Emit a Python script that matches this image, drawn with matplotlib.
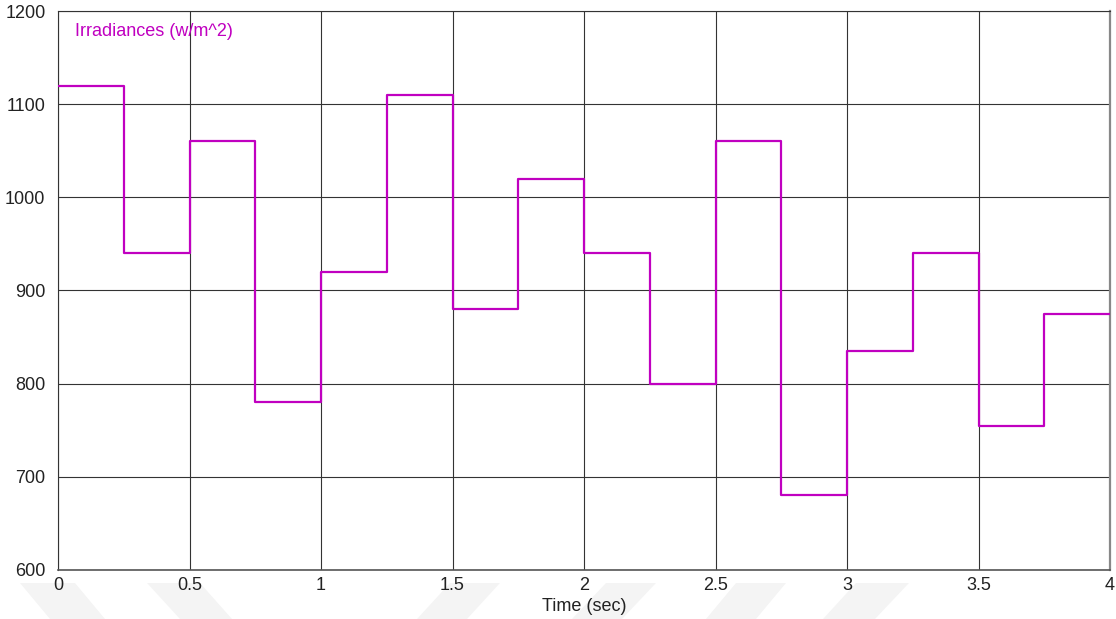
import matplotlib
matplotlib.use("Agg")
import matplotlib.pyplot as plt
from matplotlib.patches import Polygon

plt.rcParams['font.family'] = ['Liberation Sans', 'DejaVu Sans']

# Irradiance profile: piecewise-constant levels held between switching instants
switch_times = [0.0, 0.25, 0.5, 0.75, 1.0, 1.25, 1.5, 1.75, 2.0,
                2.25, 2.5, 2.75, 3.0, 3.25, 3.5, 3.75, 4.0]
irradiance = [1120, 940, 1060, 780, 920, 1110, 880, 1020,
              940, 800, 1060, 680, 835, 940, 755, 875]

x_ticks = [0, 0.5, 1, 1.5, 2, 2.5, 3, 3.5, 4]
x_tick_labels = ['0', '0.5', '1', '1.5', '2', '2.5', '3', '3.5', '4']
y_ticks = [600, 700, 800, 900, 1000, 1100, 1200]

W, H = 1116, 619
fig = plt.figure(figsize=(W / 100, H / 100), dpi=100)
ax = fig.add_axes([58 / W, 1 - 570 / H, (1110 - 58) / W, (570 - 11) / H])

# faint diagonal background bands along the bottom edge
bands = [
    [(20, 583), (75, 583), (105, 619), (50, 619)],
    [(147, 583), (200, 583), (232, 619), (180, 619)],
    [(450, 583), (500, 583), (467, 619), (417, 619)],
    [(606, 583), (656, 583), (622, 619), (572, 619)],
    [(736, 583), (786, 583), (756, 619), (706, 619)],
    [(856, 583), (909, 583), (875, 619), (823, 619)],
]
for pts in bands:
    fig.patches.append(Polygon([(px / W, 1 - py / H) for px, py in pts],
                               closed=True, transform=fig.transFigure,
                               facecolor='#f4f4f4', edgecolor='none', zorder=-5))

ax.step(switch_times, irradiance + [irradiance[-1]], where='post',
        color='#c000c0', linewidth=1.6, zorder=3)

ax.set_xlim(0, 4)
ax.set_ylim(600, 1200)
ax.set_xticks(x_ticks)
ax.set_xticklabels(x_tick_labels)
ax.set_yticks(y_ticks)
ax.grid(True, color='#333333', linewidth=0.8)
ax.tick_params(length=0, labelsize=13, colors='#222222')
ax.tick_params(axis='x', pad=5)
ax.tick_params(axis='y', pad=9)
for side in ['left', 'top']:
    ax.spines[side].set_color('#333333')
    ax.spines[side].set_linewidth(0.8)
ax.spines['bottom'].set_color('#555555')
ax.spines['bottom'].set_linewidth(1.2)
ax.spines['right'].set_color('#888888')
ax.spines['right'].set_linewidth(1.6)
ax.set_facecolor('white')

ax.set_xlabel('Time (sec)', fontsize=13, color='#222222', labelpad=3)
ax.text(75 / W, 1 - 32 / H, 'Irradiances (w/m^2)', transform=fig.transFigure,
        color='#c000c0', fontsize=13, va='center', ha='left')

fig.savefig('out.png', dpi=100)
